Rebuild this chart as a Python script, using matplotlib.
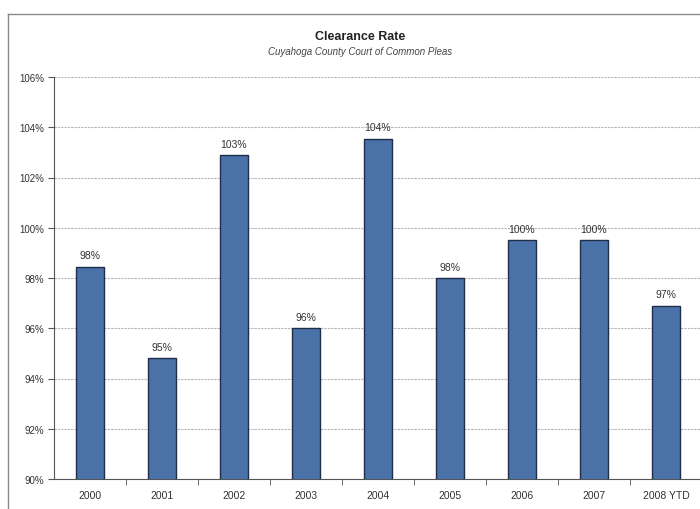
import numpy as np
import matplotlib.pyplot as plt
from matplotlib.lines import Line2D

plt.rcParams['font.family'] = ['Liberation Sans', 'DejaVu Sans']

# --- data ---
years = ['2000', '2001', '2002', '2003', '2004', '2005', '2006', '2007', '2008 YTD']
rates = [98.45, 94.82, 102.9, 96.0, 103.55, 98.0, 99.52, 99.52, 96.9]
yticks = [90, 92, 94, 96, 98, 100, 102, 104, 106]

bar_color = '#4a72a8'
edge_color = '#1e2d48'
text_color = '#333333'

fig = plt.figure(figsize=(7, 5.1), dpi=100)
ax = fig.add_axes([54 / 700, 1 - 480 / 510, 648 / 700, (480 - 78) / 510])

x = np.arange(len(years))
ax.bar(x, rates, width=0.4, color=bar_color, edgecolor=edge_color, linewidth=1.0, zorder=3)

for xi, r in zip(x, rates):
    ax.text(xi, r + 0.25, f"{r:.0f}%", ha='center', va='bottom', fontsize=7.5, color=text_color)

ax.set_ylim(90, 106)
ax.set_xlim(-0.5, len(years) - 0.5)
ax.set_yticks(yticks)
ax.set_yticklabels([f"{t}%" for t in yticks], fontsize=7, color=text_color)
ax.yaxis.grid(True, color='#b4b4b4', linewidth=0.8, linestyle=(0, (2, 1)), zorder=0)

# category labels centred, tick marks between categories
ax.set_xticks(x)
ax.set_xticklabels(years, fontsize=7.5, color=text_color)
ax.tick_params(axis='x', length=0, pad=8)
ax.set_xticks(np.arange(0.5, len(years) - 0.5), minor=True)
ax.tick_params(axis='x', which='minor', length=4, color='#555555', direction='out')
ax.tick_params(axis='y', length=4, color='#555555', direction='out', pad=3)

for s in ['top', 'right']:
    ax.spines[s].set_visible(False)
ax.spines['left'].set_color('#555555')
ax.spines['bottom'].set_color('#555555')

fig.text(360 / 700, 1 - 37 / 510, 'Clearance Rate', ha='center', va='center',
         fontsize=9, fontweight='bold', color='#222222')
fig.text(360 / 700, 1 - 52 / 510, 'Cuyahoga County Court of Common Pleas', ha='center', va='center',
         fontsize=7, style='italic', color='#444444')

# outer chart frame (cut off at right and bottom)
fig.add_artist(Line2D([8 / 700, 1], [1 - 15 / 510, 1 - 15 / 510], color='#8a8a8a', linewidth=1.0))
fig.add_artist(Line2D([8 / 700, 8 / 700], [0, 1 - 15 / 510], color='#8a8a8a', linewidth=1.0))

fig.savefig('out.png', dpi=100)
